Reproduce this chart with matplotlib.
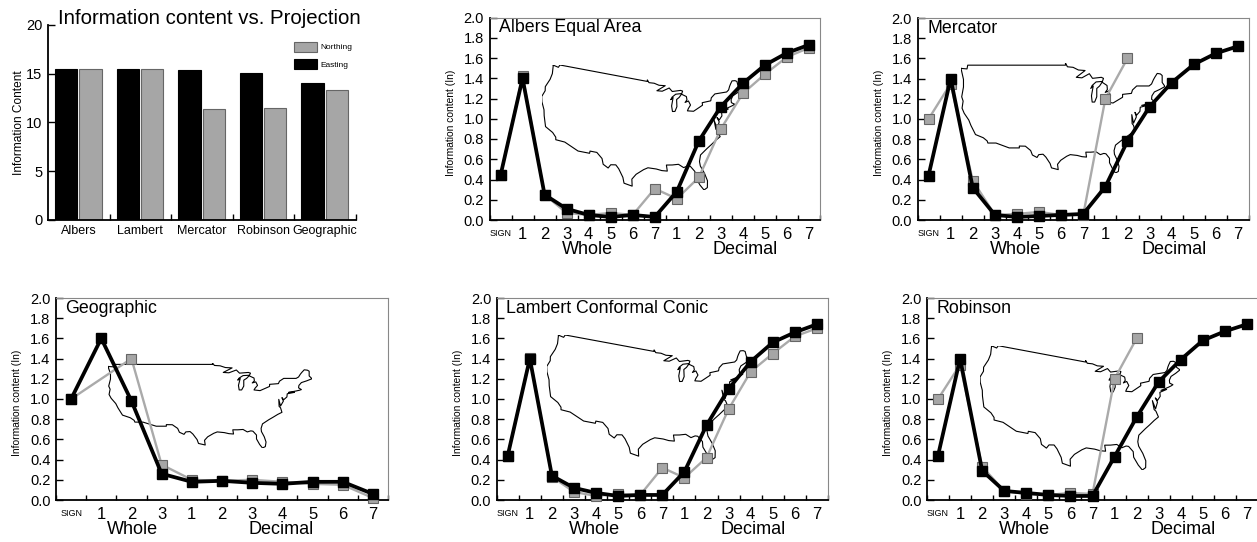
"""
Information content vs. projection
"""
import matplotlib as mpl
mpl.use('Agg')
import matplotlib.pyplot as plt
import numpy as np

plt.rcParams['font.family'] = ['Liberation Sans', 'DejaVu Sans']

W, H = 1257, 542

# bar chart values
projections = ['Albers', 'Lambert', 'Mercator', 'Robinson', 'Geographic']
bar_easting = [15.45, 15.45, 15.4, 15.05, 14.05]
bar_northing = [15.5, 15.5, 11.4, 11.45, 13.3]

# digit labels along the x axis
labels_long = ['SIGN', '1', '2', '3', '4', '5', '6', '7', '1', '2', '3', '4', '5', '6', '7']
labels_geo = ['SIGN', '1', '2', '3', '1', '2', '3', '4', '5', '6', '7']

albers_e = [.44, 1.40, .25, .11, .05, .03, .05, .03, .28, .78, 1.12, 1.35, 1.53, 1.65, 1.73]
albers_n = [.44, 1.42, .25, .07, .05, .07, .05, .31, .21, .42, .90, 1.25, 1.44, 1.61, 1.70]
mercator_e = [.44, 1.40, .32, .05, .03, .04, .05, .06, .33, .78, 1.12, 1.36, 1.54, 1.65, 1.72]
mercator_n = [1.0, 1.35, .39, .05, .06, .08, .05, .05, 1.20, 1.60]
geo_e = [1.0, 1.60, .98, .26, .18, .19, .17, .16, .18, .18, .06]
geo_n = [1.0, np.nan, 1.40, .35, .20, .19, .20, .18, .16, .15, .02]
lambert_e = [.44, 1.40, .24, .12, .07, .04, .05, .05, .28, .74, 1.10, 1.37, 1.56, 1.66, 1.74]
lambert_n = [.44, 1.41, .23, .08, .04, .06, .05, .32, .22, .42, .90, 1.27, 1.45, 1.62, 1.70]
robinson_e = [.44, 1.40, .29, .09, .07, .05, .04, .04, .43, .82, 1.17, 1.39, 1.58, 1.67, 1.74]
robinson_n = [1.0, 1.34, .33, .09, .06, .05, .07, .06, 1.20, 1.60]

# rough outline of the lower 48
us_lon = [-124.7, -123.0, -122.8, -95.15, -95.15, -94.6, -93.0, -91.5, -89.6, -92.1, -90.5, -88.4,
          -87.5, -85.0, -84.4, -84.7, -86.5, -87.6, -88.0, -87.3, -87.8, -87.6, -86.9, -86.3,
          -86.3, -85.5, -84.8, -83.4, -83.3, -83.9, -82.9, -82.4, -83.1, -83.4, -81.7, -79.0,
          -79.0, -76.5, -76.2, -75.0, -71.5, -70.8, -70.3, -69.9, -69.2, -68.3, -67.8, -67.8,
          -67.0, -68.5, -70.0, -70.7, -70.8, -70.0, -70.6, -71.5, -73.6, -72.0, -74.0, -74.1,
          -75.0, -75.5, -75.1, -75.9, -76.4, -76.3, -75.9, -75.5, -76.7, -78.0, -79.2, -81.0,
          -81.4, -81.3, -80.5, -80.0, -80.2, -81.0, -81.8, -82.7, -82.7, -83.7, -84.3, -85.3,
          -86.5, -88.0, -89.4, -89.2, -90.5, -91.8, -93.8, -94.8, -96.5, -97.4, -97.2, -99.1,
          -99.5, -100.7, -101.5, -102.7, -103.2, -104.5, -105.0, -106.5, -108.2, -108.2, -111.07,
          -114.8, -117.1, -117.3, -118.4, -120.6, -121.9, -122.5, -123.8, -124.4, -124.1, -124.5,
          -124.0, -124.0, -124.7]
us_lat = [48.4, 48.3, 49.0, 49.0, 49.4, 48.7, 48.6, 48.1, 48.0, 46.7, 46.6, 47.4,
          46.5, 46.7, 46.5, 45.9, 45.8, 45.1, 44.5, 45.0, 43.0, 41.7, 41.7, 42.8,
          44.5, 45.0, 45.75, 45.1, 44.3, 43.7, 44.0, 43.0, 42.2, 41.7, 41.5, 42.7,
          43.3, 43.5, 44.2, 45.0, 45.0, 45.4, 46.2, 46.7, 47.45, 47.35, 47.05, 45.7,
          44.9, 44.3, 43.8, 43.0, 42.3, 41.8, 41.6, 41.4, 41.0, 41.0, 40.6, 39.7,
          38.9, 39.5, 38.5, 37.1, 39.0, 37.0, 36.6, 35.3, 34.7, 33.9, 33.2, 32.0,
          30.7, 29.8, 28.3, 26.8, 25.5, 25.1, 26.1, 27.7, 28.8, 29.9, 30.0, 29.7,
          30.4, 30.3, 30.3, 29.1, 29.2, 29.5, 29.7, 29.3, 28.3, 27.3, 25.96, 26.4,
          27.5, 29.1, 29.8, 29.7, 29.0, 29.6, 30.7, 31.75, 31.78, 31.33, 31.33,
          32.5, 32.5, 33.0, 33.75, 34.5, 36.6, 37.8, 39.3, 40.4, 41.9, 42.8,
          44.8, 46.3, 48.4]


def px_rect(left, right, top, bottom):
    # pixel box (origin top left) to figure fractions
    return [left / W, 1 - bottom / H, (right - left) / W, (bottom - top) / H]


def conic(lon, lat, cm=-90.0, n=0.6):
    theta = np.radians(lon - cm) * n
    rho = 2.06 - np.sin(np.radians(lat)) * 1.27
    return rho * np.sin(theta), -rho * np.cos(theta)


def mercator(lon, lat):
    return lon, np.degrees(np.log(np.tan(np.pi / 4 + np.radians(lat) / 2)))


def geographic(lon, lat):
    return lon, lat


def draw_map(box, project):
    ax = fig.add_axes(px_rect(*box), zorder=1)
    x, y = project(np.array(us_lon), np.array(us_lat))
    ax.plot(x, y, color='black', lw=0.8)
    ax.set_xlim(x.min(), x.max())
    ax.set_ylim(y.min(), y.max())
    ax.axis('off')


def draw_panel(box, title, labels, east, north, whole_x, decimal_x):
    ax = fig.add_axes(px_rect(*box), zorder=2)
    ax.patch.set_visible(False)
    n = len(labels)
    xs = np.arange(n) + 0.5

    north = np.array(north, dtype=float)
    xn = xs[:len(north)]
    ok = ~np.isnan(north)
    ax.plot(xn[ok], north[ok], '-s', color='#aaaaaa', lw=1.7, ms=7.4,
            mfc='#a6a6a6', mec='#666666', mew=0.8, clip_on=False, zorder=3)
    ax.plot(xs[:len(east)], east, '-s', color='black', lw=2.7, ms=7.4, clip_on=False, zorder=4)

    ax.set_xlim(0, n)
    ax.set_ylim(0, 2)
    ax.set_yticks(np.arange(0, 2.01, 0.2))
    ax.set_yticklabels(['%.1f' % v for v in np.arange(0, 2.01, 0.2)], fontsize=10.5)
    ax.set_xticks(xs)
    ax.set_xticklabels(labels, fontsize=12)
    ax.set_xticks(np.arange(n + 1), minor=True)
    ax.tick_params(axis='x', which='major', length=0, pad=5)
    ax.tick_params(axis='x', which='minor', direction='in', length=3.5, width=1)
    ax.tick_params(axis='y', direction='in', length=5, width=1, pad=4)

    sign = ax.get_xticklabels()[0]
    sign.set_fontsize(6.5)
    sign.set_y(-0.012)

    for side in ['top', 'right']:
        ax.spines[side].set_color('#888888')
        ax.spines[side].set_linewidth(0.8)
    for side in ['left', 'bottom']:
        ax.spines[side].set_linewidth(1.3)

    ax.text(9.5 / 331, 0.95, title, fontsize=12.8, ha='left', va='center', transform=ax.transAxes)
    ax.text(whole_x, -0.29, 'Whole', fontsize=13, ha='center', va='center')
    ax.text(decimal_x, -0.29, 'Decimal', fontsize=13, ha='center', va='center')
    ax.set_ylabel('Information content (In)', fontsize=7.4, va='center')
    ax.yaxis.set_label_coords(-0.117, 0.48)
    return ax


fig = plt.figure(figsize=(W / 100, H / 100), dpi=100, facecolor='white')

# bar chart
ax = fig.add_axes(px_rect(48, 356, 25, 219.7))
x = np.arange(len(projections))
ax.bar(x + 0.295, bar_easting, 0.363, color='black', edgecolor='black', lw=0.8, label='Easting')
ax.bar(x + 0.69, bar_northing, 0.363, color='#a6a6a6', edgecolor='#666666', lw=0.8, label='Northing')
ax.set_xlim(0, 5)
ax.set_ylim(0, 20)
ax.set_yticks([0, 5, 10, 15, 20])
ax.tick_params(axis='y', direction='in', length=5, width=1, labelsize=10.5, pad=4)
ax.set_xticks(x + 0.5)
ax.set_xticklabels(projections, fontsize=9)
ax.set_xticks(np.arange(1, 6), minor=True)
ax.tick_params(axis='x', which='major', length=0, pad=4)
ax.tick_params(axis='x', which='minor', direction='in', length=4, width=1)
ax.spines['top'].set_visible(False)
ax.spines['right'].set_visible(False)
ax.spines['left'].set_linewidth(1.3)
ax.spines['bottom'].set_linewidth(1.3)
ax.set_ylabel('Information Content', fontsize=8.6, va='center')
ax.yaxis.set_label_coords(-0.094, 0.5)
ax.text(10 / 308, 1.035, 'Information content vs. Projection', fontsize=14.7,
        transform=ax.transAxes, ha='left', va='center', clip_on=False)
handles, names = ax.get_legend_handles_labels()
ax.legend(handles[::-1], names[::-1], loc='upper left', bbox_to_anchor=(246 / 308, 0.915),
          frameon=False, fontsize=6, borderpad=0, borderaxespad=0, handlelength=2.76,
          handleheight=1.5, labelspacing=0.85, handletextpad=0.35)

# maps go under the line panels
draw_map((541.7, 741.7, 65, 190), conic)
draw_map((961, 1165, 63, 173), mercator)
draw_map((108, 312, 363, 448), geographic)
draw_map((546.7, 750, 335, 460), conic)
draw_map((980, 1180, 345.7, 470), conic)

draw_panel((489.5, 820, 17.5, 220), 'Albers Equal Area', labels_long, albers_e, albers_n, 4.43, 11.6)
draw_panel((917.5, 1249, 18, 220), 'Mercator', labels_long, mercator_e, mercator_n, 4.43, 11.6)
draw_panel((56, 388, 298, 500), 'Geographic', labels_geo, geo_e, geo_n, 2.55, 7.47)
draw_panel((496.7, 828, 298, 500), 'Lambert Conformal Conic', labels_long, lambert_e, lambert_n, 4.43, 11.6)
draw_panel((927, 1258, 298, 500), 'Robinson', labels_long, robinson_e, robinson_n, 4.43, 11.6)

plt.savefig('out.png', dpi=100)
plt.close()
